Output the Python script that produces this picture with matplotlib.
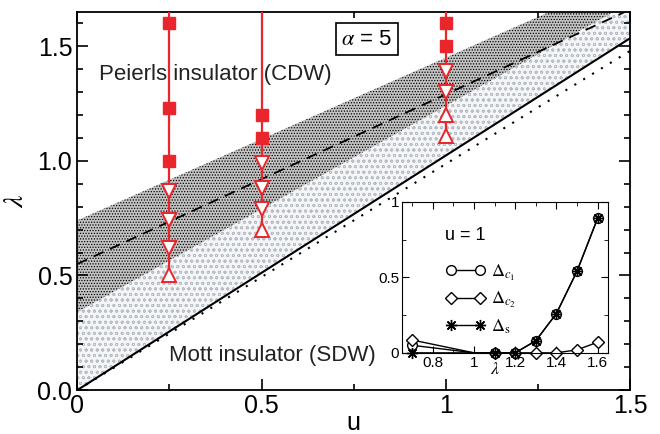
import matplotlib
matplotlib.use('Agg')
import matplotlib.pyplot as plt
from matplotlib.ticker import MultipleLocator

plt.rcParams['font.family'] = ['Liberation Sans', 'DejaVu Sans']
plt.rcParams['mathtext.fontset'] = 'stix'
plt.rcParams['hatch.linewidth'] = 0.6

# phase boundaries (straight lines, endpoints at u = 0 and u = 1.5)
u_ends = [0.0, 1.5]
dashed_line = [0.55, 1.66]
band_top = [0.74, 1.805]
band_mid = [0.34, 1.69]
solid_line = [0.0, 1.535]
dotted_line = [0.0, 1.48]

# red DMRG points
u_pts = [0.25, 0.5, 1.0]
sq_lam = [[1.60, 1.23, 1.00], [1.20, 1.10], [1.60, 1.50]]
down_lam = [[0.87, 0.74, 0.62], [0.99, 0.88, 0.79], [1.39, 1.30]]
up_lam = [[0.50], [0.70], [1.20, 1.11]]

# inset: gaps at u = 1
lam_in = [0.7, 1.0, 1.1, 1.2, 1.3, 1.4, 1.5, 1.6]
gap_c1 = [0.05, 0.0, 0.0, 0.0, 0.08, 0.26, 0.54, 0.89]
gap_c2 = [0.085, 0.0, 0.0, 0.0, 0.0, 0.0, 0.02, 0.07]
gap_s = [0.0, 0.0, 0.0, 0.0, 0.08, 0.26, 0.54, 0.89]

red = '#e8262b'
ytop = 1.65

fig = plt.figure(figsize=(6.6, 4.34), dpi=100)
ax = fig.add_axes([0.117, 0.101, 0.838, 0.872])

ax.fill_between(u_ends, solid_line, band_mid, facecolor='#f4f5f7',
                edgecolor='#b8bcc4', hatch='ooo', linewidth=0)
ax.fill_between(u_ends, band_mid, band_top, facecolor='#c4c4c4',
                edgecolor='black', hatch='......', linewidth=0)
ax.plot(u_ends, dashed_line, color='black', lw=1.3, ls=(0, (6, 4)))
ax.plot(u_ends, solid_line, color='black', lw=1.5)
ax.plot(u_ends, dotted_line, color='black', lw=1.5, ls=(0, (1, 4)))

for i, u in enumerate(u_pts):
    low = min(sq_lam[i] + down_lam[i] + up_lam[i])
    ax.plot([u, u], [low, ytop], color=red, lw=1.6, zorder=3)
    ax.plot([u] * len(sq_lam[i]), sq_lam[i], 's', color=red, ms=8.5,
            ls='none', zorder=4)
    ax.plot([u] * len(down_lam[i]), down_lam[i], 'v', mfc='white', mec=red,
            mew=1.4, ms=10, ls='none', zorder=4)
    ax.plot([u] * len(up_lam[i]), up_lam[i], '^', mfc='white', mec=red,
            mew=1.4, ms=10, ls='none', zorder=4)

ax.set_xlim(0, 1.5)
ax.set_ylim(0, ytop)
ax.set_xticks([0, 0.5, 1, 1.5], ['0', '0.5', '1', '1.5'])
ax.set_yticks([0, 0.5, 1.0, 1.5], ['0.0', '0.5', '1.0', '1.5'])
ax.xaxis.set_minor_locator(MultipleLocator(0.25))
ax.yaxis.set_minor_locator(MultipleLocator(0.1))
ax.tick_params(which='both', direction='in', top=True, right=True,
               labelsize=18, width=1.2)
ax.tick_params(axis='x', pad=3)
ax.tick_params(which='major', length=8)
ax.tick_params(which='minor', length=4)
for s in ax.spines.values():
    s.set_linewidth(1.3)
ax.set_xlabel('u', fontsize=18, labelpad=-5)
ax.set_ylabel(r'$\lambda$', fontsize=20, labelpad=6)

ax.text(0.374, 1.378, 'Peierls insulator (CDW)', fontsize=16,
        ha='center', va='center', color='#222222')
ax.text(0.53, 0.152, 'Mott insulator (SDW)', fontsize=16,
        ha='center', va='center', color='#222222')
ax.text(0.786, 1.53, r'$\alpha$ = 5', fontsize=16, ha='center', va='center',
        bbox=dict(boxstyle='square,pad=0.25', fc='white', ec='black', lw=1.2))

# inset
axi = fig.add_axes([0.609, 0.187, 0.312, 0.348])
axi.plot(lam_in, gap_c1, '-o', color='black', mfc='white', ms=7, lw=1,
         markevery=[0, 2, 3, 4, 5, 6, 7], clip_on=False,
         label=r'$\Delta_{c_1}$')
axi.plot(lam_in, gap_c2, '-D', color='black', mfc='white', ms=6, lw=1,
         markevery=[0, 2, 3, 4, 5, 6, 7], clip_on=False,
         label=r'$\Delta_{c_2}$')
axi.plot(lam_in, gap_s, '-', marker=(8, 2, 0), color='black', ms=8, lw=1,
         markevery=[0, 2, 3, 4, 5, 6, 7], clip_on=False,
         label=r'$\Delta_\mathrm{s}$')
axi.set_xlim(0.65, 1.65)
axi.set_ylim(0, 1)
axi.set_xticks([0.8, 1.0, 1.2, 1.4, 1.6], ['0.8', '1', '1.2', '1.4', '1.6'])
axi.xaxis.set_minor_locator(MultipleLocator(0.1))
axi.set_yticks([0, 0.5, 1], ['0', '0.5', '1'])
axi.yaxis.set_minor_locator(MultipleLocator(0.25))
axi.tick_params(which='both', direction='in', top=True, right=True,
                labelsize=11, pad=2)
axi.tick_params(which='major', length=5)
axi.tick_params(which='minor', length=3)
axi.text(0.45, -0.11, r'$\lambda$', transform=axi.transAxes, fontsize=13,
         ha='center', va='center')
axi.text(0.21, 0.78, 'u = 1', transform=axi.transAxes, fontsize=13,
         va='center')
axi.legend(loc='upper left', bbox_to_anchor=(0.15, 0.68), frameon=False,
           numpoints=2, fontsize=13, handlelength=2.2, labelspacing=0.4,
           handletextpad=0.3, borderpad=0.2)

fig.savefig('out.png', dpi=100)
